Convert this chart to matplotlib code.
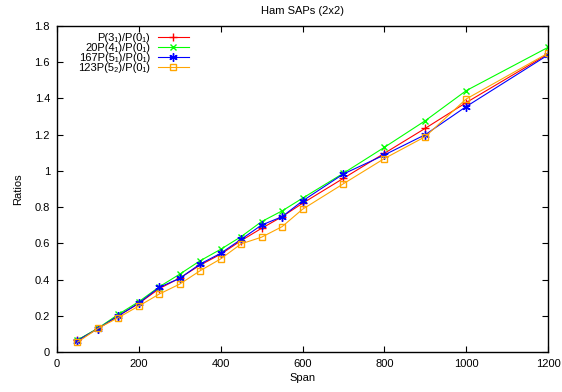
import matplotlib
matplotlib.use('Agg')
import matplotlib.pyplot as plt

plt.rcParams['font.family'] = ['Liberation Sans', 'DejaVu Sans']
plt.rcParams['font.size'] = 8

span = [50, 100, 150, 200, 250, 300, 350, 400, 450, 500, 550, 600, 700, 800, 900, 1000, 1200]

p3 = [0.065, 0.129, 0.200, 0.268, 0.350, 0.408, 0.480, 0.540, 0.615, 0.683, 0.747, 0.821,
      0.959, 1.097, 1.235, 1.377, 1.645]
p4 = [0.066, 0.131, 0.208, 0.278, 0.360, 0.430, 0.504, 0.567, 0.637, 0.720, 0.779, 0.849,
      0.987, 1.130, 1.277, 1.443, 1.682]
p51 = [0.063, 0.129, 0.200, 0.270, 0.357, 0.407, 0.486, 0.545, 0.622, 0.701, 0.747, 0.834,
       0.983, 1.088, 1.200, 1.355, 1.640]
p52 = [0.054, 0.130, 0.190, 0.254, 0.320, 0.375, 0.449, 0.514, 0.597, 0.634, 0.692, 0.788,
       0.929, 1.068, 1.189, 1.397, 1.650]

labels = ['P(3\u2081)/P(0\u2081)',
          '20P(4\u2081)/P(0\u2081)',
          '167P(5\u2081)/P(0\u2081)',
          '123P(5\u2082)/P(0\u2081)']

fig = plt.figure(figsize=(5.62, 3.92), dpi=100)
ax = fig.add_axes([57 / 562, 1 - 352 / 392, 491 / 562, 326 / 392])

ax.plot(span, p3, color='red', marker='+', ms=6, lw=0.8, label=labels[0])
ax.plot(span, p4, color='#00ff00', marker='x', ms=5, lw=0.8, label=labels[1])
ax.plot(span, p51, color='blue', marker=(6, 2, 0), ms=6, lw=0.8, label=labels[2])
ax.plot(span, p52, color='#ffa500', marker='s', ms=5, mfc='none', lw=0.8, label=labels[3])

ax.set_xlim(0, 1200)
ax.set_ylim(0, 1.8)
ax.set_xticks(range(0, 1201, 200))
ax.set_yticks([0, 0.2, 0.4, 0.6, 0.8, 1.0, 1.2, 1.4, 1.6, 1.8])
ax.set_yticklabels(['0', '0.2', '0.4', '0.6', '0.8', '1', '1.2', '1.4', '1.6', '1.8'])
ax.tick_params(direction='in', top=True, right=True, length=4, width=0.8, pad=5)
for s in ax.spines.values():
    s.set_linewidth(1)

ax.set_xlabel('Span', labelpad=3)
ax.set_ylabel('Ratios', labelpad=8)
ax.set_title('Ham SAPs (2x2)', fontsize=8, pad=9)

ax.legend(loc='upper left', bbox_to_anchor=(0.027, 1.003), markerfirst=False, frameon=False,
          handlelength=2.8, handletextpad=0.7, labelspacing=0.0, borderaxespad=0.3,
          fontsize=8)

plt.savefig('out.png', dpi=100)
